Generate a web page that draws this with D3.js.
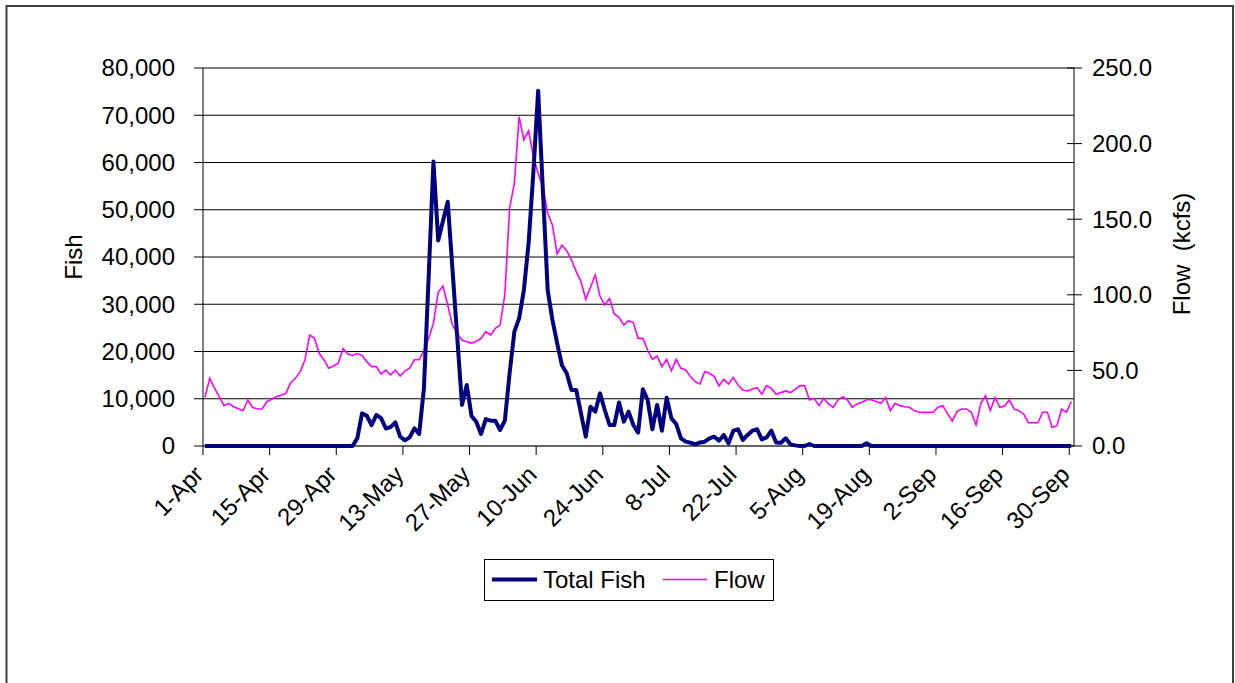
<!DOCTYPE html>
<html>
<head>
<meta charset="utf-8">
<script src="https://cdn.jsdelivr.net/npm/d3@7"></script>
<style>
  html, body { margin: 0; padding: 0; background: #fff; }
  svg { display: block; }
  text { font-family: "Liberation Sans", Arial, sans-serif; fill: #000; }
</style>
</head>
<body>
<svg id="chart" width="1235" height="683"></svg>
<script>
// ---- Data ----
const startDay = "2001-04-01";           // first category (1-Apr), daily through 30-Sep
const endDay = "2001-10-01";             // end of last day slot
const tickLabels = ["1-Apr","15-Apr","29-Apr","13-May","27-May","10-Jun","24-Jun",
                    "8-Jul","22-Jul","5-Aug","19-Aug","2-Sep","16-Sep","30-Sep"];
const fishTicks = [0,10000,20000,30000,40000,50000,60000,70000,80000];
const flowTicks = [0,50,100,150,200,250];

const totalFish = [
  0,0,0,0,0,0,0,0,0,0, 0,0,0,0,0,0,0,0,0,0, 0,0,0,0,0,0,0,0,0,0, 0,0,
  1600,6900,6400,4400,6560,5900,3700,4000,5000,2000,1200,1830,3740,2540,12200,36000,
  60200,43500,47600,51700,37400,23000,8700,12900,6350,5150,2540,5710,5360,5360,3390,5360,
  15380,24200,27000,33000,43000,58000,75200,54000,33000,26700,21700,17100,15400,11850,11850,6900,
  1970,8320,7260,11150,7620,4440,4440,9200,5150,7260,4440,2820,12000,9740,3530,8680,
  3240,10230,5850,4660,1620,920,700,350,760,920,1620,1970,1130,2330,560,3240,
  3530,1270,2330,3240,3530,1410,1830,3240,760,700,1620,350,130,0,0,420,
  0,0,0,0,0,0,0,0,0,0,0,600,
  0,0,0,0,0,0,0,0,0,0, 0,0,0,0,0,0,0,0,0,0, 0,0,0,0,0,0,0,0,0,0, 0,0,0,0,0,0,0,0,0,0, 0,0,0
];

const flow = [
  32.2,44.8,38.2,32.6,26.7,28.2,26.0,24.7,23.4,30.4,25.6,24.5,24.5,29.3,30.9,32.6,33.5,34.8,41.9,44.8,
  49.2,56.9,73.4,71.2,61.3,56.9,51.4,52.9,54.7,64.4,60.8,59.9,61.1,59.9,55.8,52.5,52.5,47.6,50.2,47.0,
  50.2,46.3,49.5,51.4,
  57.0,57.0,63.0,71.2,81.1,101.6,105.8,93.3,80.0,74.5,70.1,69.0,67.9,69.3,71.2,75.6,73.4,77.8,80.0,99.9,
  157.2,173.7,217.8,202.4,208.5,191.3,180.3,171.5,153.9,146.2,127.0,132.9,129.2,123.0,115.3,108.7,97.0,105.0,113.1,99.0,
  93.3,97.5,87.3,85.1,
  80.0,82.9,81.6,71.2,71.2,63.5,57.3,59.5,52.5,57.3,49.8,57.3,51.4,50.3,45.9,42.5,41.0,49.2,48.1,45.9,
  39.7,44.1,41.0,45.4,40.3,37.0,36.4,37.7,38.6,34.2,39.9,38.1,34.2,35.3,36.4,35.3,37.5,39.9,39.9,30.4,
  31.5,26.7,31.5,27.8,25.6,30.4,32.6,30.4,
  25.6,27.8,29.0,30.6,30.6,29.5,28.3,32.0,23.4,28.3,26.7,26.0,25.6,23.4,22.3,22.3,22.3,22.3,25.6,26.7,
  21.6,16.5,22.7,24.5,24.5,22.3,13.9,28.2,33.1,23.4,32.0,25.6,26.5,30.4,24.5,23.4,21.2,15.4,15.4,15.4,
  22.3,22.3,12.3,13.4,24.5,22.3,29.3
];

const seriesNames = ["Total Fish", "Flow"];
const seriesColors = ["#000080", "#FF00FF"];

// ---- Layout ----
const svg = d3.select("#chart");
const W = 1235, H = 683;
const plot = { left: 203, right: 1074, top: 68, bottom: 446 };

svg.append("rect").attr("width", W).attr("height", H).attr("fill", "#fff");
// outer chart border
svg.append("rect").attr("x", 6.5).attr("y", 6).attr("width", 1226.5).attr("height", 700)
  .attr("fill", "none").attr("stroke", "#404040").attr("stroke-width", 2);

const parse = d3.timeParse("%Y-%m-%d");
const d0 = parse(startDay), d1 = parse(endDay);
const dates = totalFish.map((_, i) => d3.timeDay.offset(d0, i));

const x = d3.scaleTime().domain([d0, d1]).range([plot.left, plot.right]);
const yL = d3.scaleLinear().domain([0, 80000]).range([plot.bottom, plot.top]);
const yR = d3.scaleLinear().domain([0, 250]).range([plot.bottom, plot.top]);
const xMid = d => x(d3.timeHour.offset(d, 10));

// gridlines
svg.append("g").selectAll("line").data(fishTicks.filter(v => v > 0)).join("line")
  .attr("x1", plot.left).attr("x2", plot.right)
  .attr("y1", d => yL(d)).attr("y2", d => yL(d))
  .attr("stroke", "#000").attr("stroke-width", 1);

// axes lines
const ax = svg.append("g").attr("stroke", "#000").attr("stroke-width", 1);
ax.append("line").attr("x1", plot.left).attr("x2", plot.left).attr("y1", plot.top).attr("y2", plot.bottom);
ax.append("line").attr("x1", plot.right).attr("x2", plot.right).attr("y1", plot.top).attr("y2", plot.bottom);
ax.append("line").attr("x1", plot.left).attr("x2", plot.right).attr("y1", plot.bottom).attr("y2", plot.bottom)
  .attr("stroke", "#333").attr("stroke-width", 1.5);

// left axis
const fmtL = d3.format(",");
const gL = svg.append("g");
gL.selectAll("line").data(fishTicks).join("line")
  .attr("x1", plot.left - 9).attr("x2", plot.left).attr("y1", d => yL(d)).attr("y2", d => yL(d))
  .attr("stroke", "#000");
gL.selectAll("text").data(fishTicks).join("text")
  .attr("x", 175).attr("y", d => yL(d)).attr("dy", "0.35em")
  .attr("text-anchor", "end").attr("font-size", 24).text(d => fmtL(d));

// right axis
const fmtR = d3.format(".1f");
const gR = svg.append("g");
gR.selectAll("line").data(flowTicks).join("line")
  .attr("x1", plot.right - 7).attr("x2", plot.right + 8).attr("y1", d => yR(d)).attr("y2", d => yR(d))
  .attr("stroke", "#000");
gR.selectAll("text").data(flowTicks).join("text")
  .attr("x", 1092).attr("y", d => yR(d)).attr("dy", "0.35em")
  .attr("text-anchor", "start").attr("font-size", 24).text(d => fmtR(d));

// bottom axis
const fmtD = d3.timeFormat("%-d-%b");
const parseLbl = d3.timeParse("%Y-%d-%b");
const tickDates = tickLabels.map(s => parseLbl("2001-" + s));
const gB = svg.append("g");
gB.selectAll("line").data(tickDates).join("line")
  .attr("x1", d => x(d)).attr("x2", d => x(d)).attr("y1", plot.bottom).attr("y2", plot.bottom + 9)
  .attr("stroke", "#000");
gB.selectAll("text").data(tickDates).join("text")
  .attr("transform", d => `translate(${x(d) + 2},${plot.bottom + 30}) rotate(-45)`)
  .attr("text-anchor", "end").attr("font-size", 24).text(d => fmtD(d));

// axis titles
svg.append("text").attr("transform", "translate(74,257) rotate(-90)")
  .attr("text-anchor", "middle").attr("dy", "0.35em").attr("font-size", 24).text("Fish");
svg.append("text").attr("transform", "translate(1182,254) rotate(-90)")
  .attr("text-anchor", "middle").attr("dy", "0.35em").attr("font-size", 24)
  .attr("xml:space", "preserve").style("white-space", "pre").text("Flow  (kcfs)");

// series lines
const lineFlow = d3.line().x((d, i) => xMid(dates[i])).y(d => yR(d));
const lineFish = d3.line().x((d, i) => xMid(dates[i])).y(d => yL(d));
svg.append("path").datum(flow).attr("d", lineFlow)
  .attr("fill", "none").attr("stroke", seriesColors[1]).attr("stroke-width", 1.6);
svg.append("path").datum(totalFish).attr("d", lineFish)
  .attr("fill", "none").attr("stroke", seriesColors[0]).attr("stroke-width", 4)
  .attr("stroke-linejoin", "round");

// legend
const lg = svg.append("g");
lg.append("rect").attr("x", 484.5).attr("y", 559.5).attr("width", 289).attr("height", 41)
  .attr("fill", "#fff").attr("stroke", "#000").attr("stroke-width", 1);
const legendItems = [
  { name: seriesNames[0], color: seriesColors[0], w: 4, x1: 492, x2: 537, tx: 543 },
  { name: seriesNames[1], color: seriesColors[1], w: 1.6, x1: 663, x2: 707, tx: 714 }
];
legendItems.forEach(it => {
  lg.append("line").attr("x1", it.x1).attr("x2", it.x2).attr("y1", 579.5).attr("y2", 579.5)
    .attr("stroke", it.color).attr("stroke-width", it.w);
  lg.append("text").attr("x", it.tx).attr("y", 580).attr("dy", "0.35em")
    .attr("font-size", 24).text(it.name);
});
</script>
</body>
</html>
